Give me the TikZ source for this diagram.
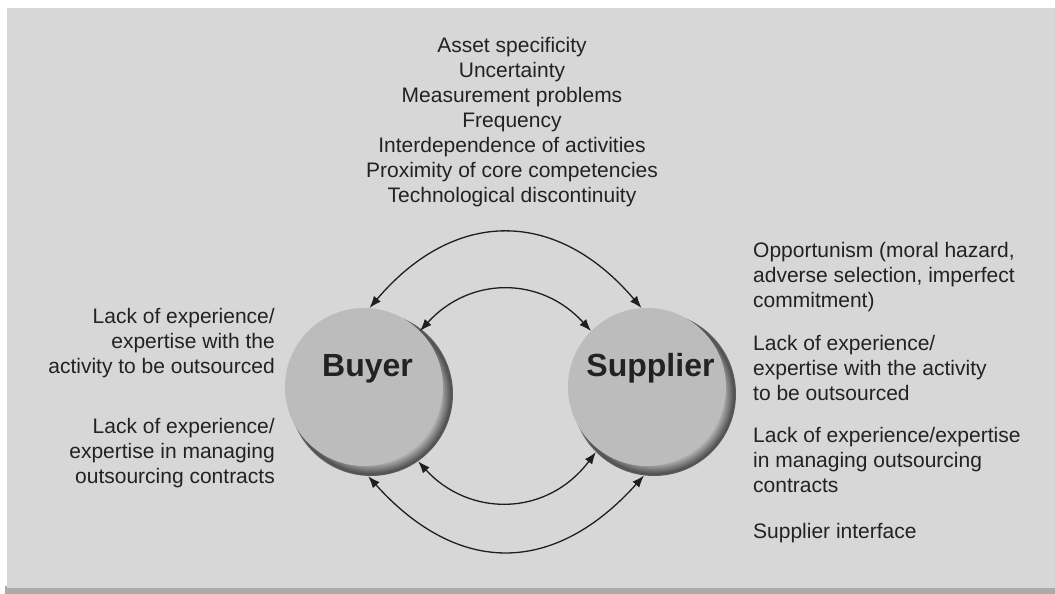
\documentclass[tikz,border=0pt]{standalone}
\usepackage{fontspec}
\setmainfont{Liberation Sans}
\usetikzlibrary{arrows.meta}
\definecolor{bg}{HTML}{D7D7D7}
\definecolor{bgsh}{HTML}{ABABAB}
\definecolor{face}{HTML}{BCBCBC}
\definecolor{dk}{HTML}{505050}
\definecolor{rim}{HTML}{646464}
\definecolor{txt}{HTML}{222222}
\definecolor{arr}{HTML}{1E1E1E}
\pgfdeclareradialshading{discshade}{\pgfpoint{0bp}{0bp}}{color(0bp)=(face); color(20.8bp)=(face); color(24.3bp)=(dk); color(25bp)=(rim); color(50bp)=(rim)}
\begin{document}
\begin{tikzpicture}[x=1pt,y=-1pt,
  lbl/.style={font=\fontsize{21}{25}\selectfont, text=txt, inner sep=0pt},
  disc/.style={circle, fill=face, minimum size=158pt, inner sep=0pt,
    font=\fontsize{32}{32}\selectfont\bfseries, text=txt, text height=0pt, text depth=22pt,
    execute at begin node={\kern7pt}},
  discsh/.style={circle, shading=discshade, minimum size=164pt, inner sep=0pt},
  link/.style={line width=1.3pt, draw=arr, <->, >={Latex[length=12pt,width=9pt]}}]
\useasboundingbox (0,0) rectangle (1055,594);
\fill[white] (0,0) rectangle (1055,594);
\fill[bgsh] (5,586) rectangle (1055,594);
\fill[bg] (7,8) rectangle (1055,588);

\node[discsh] (buyersh) at (371,394) {};
\node[disc] (buyer) at (364,387) {Buyer};
\node[discsh] (suppliersh) at (654,394) {};
\node[disc] (supplier) at (647,387) {Supplier};

\draw[link] (buyer.86) .. controls +(85,-100) and +(-85,-100) .. (supplier.94);
\draw[link] (buyer.45) .. controls +(50,-55) and +(-50,-55) .. (supplier.135);
\draw[link] (buyersh.-55) .. controls +(50,55) and +(-50,66) .. (suppliersh.225);
\draw[link] (buyersh.-92) .. controls +(90,100) and +(-90,100) .. (suppliersh.-97);

\node[lbl, align=center, anchor=north] (factors) at (512,34.5)
  {\strut Asset specificity\\Uncertainty\\Measurement problems\\Frequency\\Interdependence of activities\\Proximity of core competencies\\Technological discontinuity};

\node[lbl, align=right, anchor=north east] (b1) at (275,305.5)
  {\strut Lack of experience/\\expertise with the\\activity to be outsourced};
\node[lbl, align=right, anchor=north east] (b2) at (275,415.5)
  {\strut Lack of experience/\\expertise in managing\\outsourcing contracts};

\node[lbl, align=left, anchor=north west] (s1) at (753,239.5)
  {\strut Opportunism (moral hazard,\\adverse selection, imperfect\\commitment)};
\node[lbl, align=left, anchor=north west] (s2) at (753,332.5)
  {\strut Lack of experience/\\expertise with the activity\\to be outsourced};
\node[lbl, align=left, anchor=north west] (s3) at (753,424.5)
  {\strut Lack of experience/expertise\\in managing outsourcing\\contracts};
\node[lbl, align=left, anchor=north west] (s4) at (753,520.5)
  {\strut Supplier interface};
\end{tikzpicture}
\end{document}
